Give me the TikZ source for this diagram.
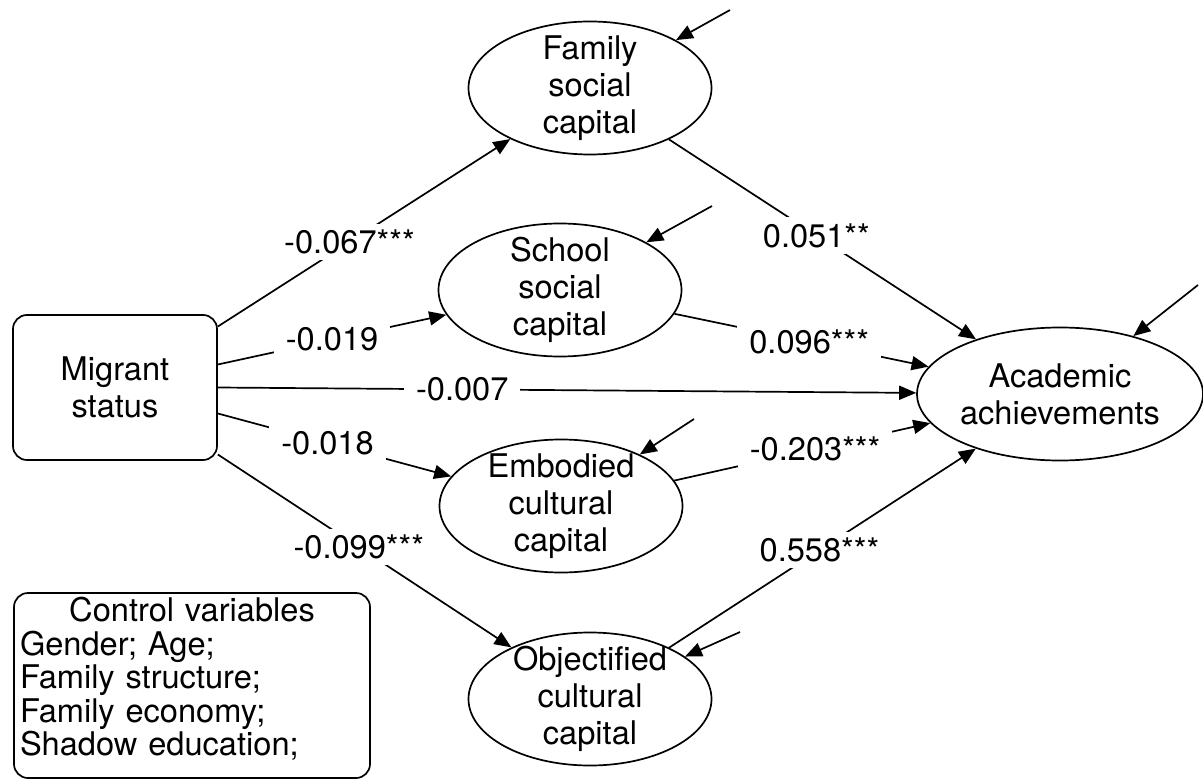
\documentclass[tikz,border=0pt]{standalone}
\usepackage{fontspec}
\setmainfont{TeX Gyre Heros}
\usetikzlibrary{shapes.geometric,arrows.meta,positioning}

\begin{document}
\begin{tikzpicture}[x=0.5pt,y=-0.5pt,line width=0.85pt,
    >={Triangle[length=8.5pt,width=7pt]},
    font=\fontsize{16.3}{18.5}\selectfont,
    latent/.style={ellipse,draw,minimum width=121.5pt,minimum height=66.5pt,
        inner xsep=0pt,inner ysep=-6pt,align=center},
    observed/.style={rectangle,draw,rounded corners=7pt,minimum width=102pt,
        minimum height=72.5pt,align=center},
    coef/.style={fill=white,inner xsep=6pt,inner ysep=3pt}]
    \useasboundingbox (0,0) rectangle (1203,780);
    % variables
    \node[observed] (mig) at (115,387.5) {Migrant\\status};
    \node[latent] (fam) at (590,88) {Family\\social\\capital};
    \node[latent] (sch) at (560,290) {School\\social\\capital};
    \node[latent] (emb) at (561,506) {Embodied\\cultural\\capital};
    \node[latent] (obj) at (590,699) {Objectified\\cultural\\capital};
    \node[latent, minimum width=143pt] (acad) at (1060,394) {Academic\\achievements};
    \node[draw,rounded corners=7pt,text width=172pt,inner xsep=3pt,inner ysep=1pt,
        minimum height=92.5pt,text depth=76pt,align=left,
        font=\fontsize{16.3}{16.75}\selectfont] (ctrl) at (192,685.5)
        {{\centering Control variables\par}Gender; Age;\\Family structure;\\
        Family economy;\\Shadow education;};
    % error terms
    \coordinate (efam) at (730,10);
    \coordinate (esch) at (712,206);
    \coordinate (eemb) at (694,419);
    \coordinate (eobj) at (740,632);
    \coordinate (eacad) at (1198,285);
    \path[->]
    ([yshift=30.5pt]mig.east) edge node[coef,pos=.45] {-0.067***} (fam)
    ([yshift=11.5pt]mig.east) edge node[coef,pos=.5] {-0.019} (sch)
    (mig.east) edge node[coef,pos=.35] {-0.007} (acad)
    ([yshift=-13pt]mig.east) edge node[coef,pos=.47] {-0.018} (emb)
    ([yshift=-33.5pt]mig.east) edge node[coef,pos=.48] {-0.099***} (obj)
    (fam) edge node[coef,pos=.48] {0.051**} (acad)
    (sch) edge node[coef,pos=.53] {0.096***} (acad)
    (emb) edge node[coef,pos=.55] {-0.203***} (acad)
    (obj) edge node[coef,pos=.49] {0.558***} (acad);
    \path[->]
    (efam) edge (fam)
    (esch) edge (sch)
    (eemb) edge (emb)
    (eobj) edge (obj)
    (eacad) edge (acad);
\end{tikzpicture}
\end{document}
